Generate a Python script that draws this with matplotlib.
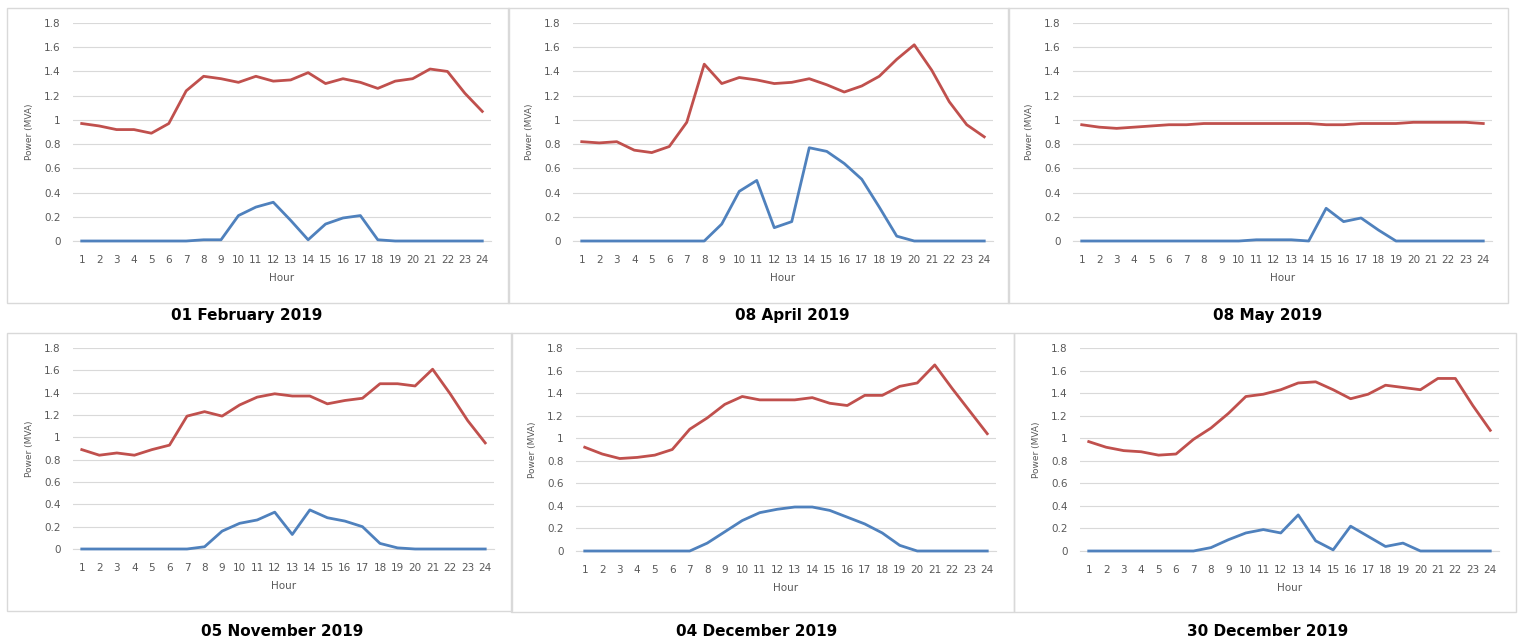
import numpy as np
import matplotlib
matplotlib.use("Agg")
import matplotlib.pyplot as plt
from matplotlib.patches import Rectangle

hours = list(range(1, 25))
titles = ["01 February 2019", "08 April 2019", "08 May 2019",
          "05 November 2019", "04 December 2019", "30 December 2019"]

# Load (red) series per day, MVA
load_feb01 = [0.97, 0.95, 0.92, 0.92, 0.89, 0.97, 1.24, 1.36, 1.34, 1.31, 1.36, 1.32,
              1.33, 1.39, 1.30, 1.34, 1.31, 1.26, 1.32, 1.34, 1.42, 1.40, 1.22, 1.07]
load_apr08 = [0.82, 0.81, 0.82, 0.75, 0.73, 0.78, 0.98, 1.46, 1.30, 1.35, 1.33, 1.30,
              1.31, 1.34, 1.29, 1.23, 1.28, 1.36, 1.50, 1.62, 1.41, 1.15, 0.96, 0.86]
load_may08 = [0.96, 0.94, 0.93, 0.94, 0.95, 0.96, 0.96, 0.97, 0.97, 0.97, 0.97, 0.97,
              0.97, 0.97, 0.96, 0.96, 0.97, 0.97, 0.97, 0.98, 0.98, 0.98, 0.98, 0.97]
load_nov05 = [0.89, 0.84, 0.86, 0.84, 0.89, 0.93, 1.19, 1.23, 1.19, 1.29, 1.36, 1.39,
              1.37, 1.37, 1.30, 1.33, 1.35, 1.48, 1.48, 1.46, 1.61, 1.39, 1.15, 0.95]
load_dec04 = [0.92, 0.86, 0.82, 0.83, 0.85, 0.90, 1.08, 1.18, 1.30, 1.37, 1.34, 1.34,
              1.34, 1.36, 1.31, 1.29, 1.38, 1.38, 1.46, 1.49, 1.65, 1.44, 1.24, 1.04]
load_dec30 = [0.97, 0.92, 0.89, 0.88, 0.85, 0.86, 0.99, 1.09, 1.22, 1.37, 1.39, 1.43,
              1.49, 1.50, 1.43, 1.35, 1.39, 1.47, 1.45, 1.43, 1.53, 1.53, 1.29, 1.07]

# PV (blue) series per day, MVA
pv_feb01 = [0, 0, 0, 0, 0, 0, 0, 0.01, 0.01, 0.21, 0.28, 0.32,
            0.17, 0.01, 0.14, 0.19, 0.21, 0.01, 0, 0, 0, 0, 0, 0]
pv_apr08 = [0, 0, 0, 0, 0, 0, 0, 0, 0.14, 0.41, 0.50, 0.11,
            0.16, 0.77, 0.74, 0.64, 0.51, 0.28, 0.04, 0, 0, 0, 0, 0]
pv_may08 = [0, 0, 0, 0, 0, 0, 0, 0, 0, 0, 0.01, 0.01,
            0.01, 0.0, 0.27, 0.16, 0.19, 0.09, 0, 0, 0, 0, 0, 0]
pv_nov05 = [0, 0, 0, 0, 0, 0, 0, 0.02, 0.16, 0.23, 0.26, 0.33,
            0.13, 0.35, 0.28, 0.25, 0.20, 0.05, 0.01, 0, 0, 0, 0, 0]
pv_dec04 = [0, 0, 0, 0, 0, 0, 0, 0.07, 0.17, 0.27, 0.34, 0.37,
            0.39, 0.39, 0.36, 0.30, 0.24, 0.16, 0.05, 0, 0, 0, 0, 0]
pv_dec30 = [0, 0, 0, 0, 0, 0, 0, 0.03, 0.10, 0.16, 0.19, 0.16,
            0.32, 0.09, 0.01, 0.22, 0.13, 0.04, 0.07, 0, 0, 0, 0, 0]

loads = [load_feb01, load_apr08, load_may08, load_nov05, load_dec04, load_dec30]
pvs = [pv_feb01, pv_apr08, pv_may08, pv_nov05, pv_dec04, pv_dec30]

W, H = 1520, 643
RED = "#c0504d"
BLUE = "#4f81bd"
GRID = "#d9d9d9"
TXT = "#595959"

# pixel layout: box (x0, y0, x1, y1), plot area (x0, y_top, x1, y_zero), title (x, y)
boxes = [(7, 8, 509, 303), (508, 8, 1009, 303), (1008, 8, 1508, 303),
         (7, 333, 512, 611), (511, 333, 1014, 612), (1014, 333, 1516, 612)]
plots = [(73, 23, 491, 241), (573, 23, 993, 241), (1073, 23, 1492, 241),
         (73, 348, 494, 549), (576, 348, 996, 551), (1080, 348, 1499, 551)]
title_pos = [(247, 316), (792, 316), (1268, 316),
             (282, 632), (757, 632), (1268, 632)]

fig = plt.figure(figsize=(W / 100, H / 100), dpi=100)
fig.patch.set_facecolor("white")

for i in range(6):
    bx0, by0, bx1, by1 = boxes[i]
    fig.patches.append(Rectangle((bx0 / W, 1 - by1 / H), (bx1 - bx0) / W, (by1 - by0) / H,
                                 transform=fig.transFigure, fill=False,
                                 edgecolor=GRID, linewidth=1.0))

    px0, py0, px1, py1 = plots[i]
    ax = fig.add_axes([px0 / W, 1 - py1 / H, (px1 - px0) / W, (py1 - py0) / H])
    ax.plot(hours, loads[i], color=RED, lw=2.0, clip_on=False, zorder=3)
    ax.plot(hours, pvs[i], color=BLUE, lw=2.0, clip_on=False, zorder=3)

    ax.set_xlim(0.5, 24.5)
    ax.set_ylim(0, 1.8)
    ax.set_xticks(hours)
    ax.set_yticks(np.arange(0, 1.81, 0.2))
    ax.set_yticklabels(["0", "0.2", "0.4", "0.6", "0.8", "1", "1.2", "1.4", "1.6", "1.8"])
    ax.grid(axis="y", color=GRID, lw=0.8)
    ax.set_axisbelow(True)
    for s in ["top", "right", "left"]:
        ax.spines[s].set_visible(False)
    ax.spines["bottom"].set_color(GRID)
    ax.tick_params(length=0, labelsize=7.5, colors=TXT)
    ax.tick_params(axis="x", pad=10)
    ax.tick_params(axis="y", pad=9)
    ax.set_xlabel("Hour", fontsize=7.5, color=TXT, labelpad=6)
    ax.set_ylabel("Power (MVA)", fontsize=6.5, color=TXT, labelpad=7)

    tx, ty = title_pos[i]
    fig.text(tx / W, 1 - ty / H, titles[i], ha="center", va="center",
             fontsize=11, fontweight="bold", color="black")

fig.savefig("out.png", dpi=100, facecolor="white")
